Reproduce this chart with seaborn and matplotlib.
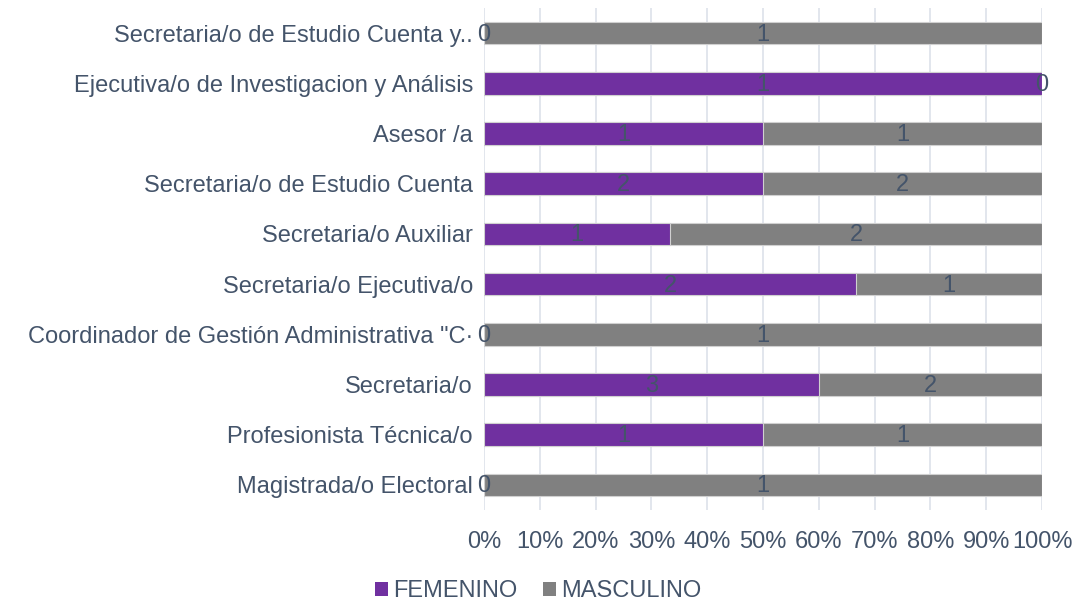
import matplotlib
matplotlib.use("Agg")
import matplotlib.pyplot as plt
import seaborn as sns
import pandas as pd
import numpy as np
from matplotlib.patches import Patch

categories = [
    "Secretaria/o de Estudio Cuenta y..",
    "Ejecutiva/o de Investigacion y Análisis",
    "Asesor /a",
    "Secretaria/o de Estudio Cuenta",
    "Secretaria/o Auxiliar",
    "Secretaria/o Ejecutiva/o",
    "Coordinador de Gestión Administrativa \"C·",
    "Secretaria/o",
    "Profesionista Técnica/o",
    "Magistrada/o Electoral",
]
femenino = [0, 1, 1, 2, 1, 2, 0, 3, 1, 0]
masculino = [1, 0, 1, 2, 2, 1, 1, 2, 1, 1]
x_ticks = [0, 10, 20, 30, 40, 50, 60, 70, 80, 90, 100]
series_names = ["FEMENINO", "MASCULINO"]

PURPLE = "#7030a0"
GRAY = "#808080"
TEXT = "#44546a"
GRID = "#dde2ea"

sns.set_theme(style="white")
plt.rcParams["font.family"] = ["Liberation Sans", "DejaVu Sans"]

df = pd.DataFrame({"cat": categories, "F": femenino, "M": masculino})
df["total"] = df["F"] + df["M"]
df["f_pct"] = df["F"] / df["total"] * 100
df["all_pct"] = 100.0

fig = plt.figure(figsize=(10.76, 6.0), dpi=100)
ax = fig.add_axes([484 / 1076, 1 - 510 / 600, (1042 - 484) / 1076, (510 - 8) / 600])

sns.barplot(data=df, y="cat", x="all_pct", color=GRAY, orient="h", width=0.45,
            edgecolor="#d0d0d0", linewidth=0.8, ax=ax, saturation=1, zorder=2)
sns.barplot(data=df, y="cat", x="f_pct", color=PURPLE, orient="h", width=0.45,
            edgecolor="#d0d0d0", linewidth=0.8, ax=ax, saturation=1, zorder=3)

fs = 17
for i, row in df.iterrows():
    fp = row["f_pct"]
    ax.text(fp / 2, i + 0.03, str(row["F"]), ha="center", va="center", color=TEXT, fontsize=fs, zorder=5)
    ax.text(fp + (100 - fp) / 2, i + 0.03, str(row["M"]), ha="center", va="center", color=TEXT, fontsize=fs, zorder=5)

ax.set_xlim(0, 100)
ax.set_ylim(len(categories) - 0.5, -0.5)
ax.set_xticks(x_ticks)
ax.set_xticklabels([f"{t}%" for t in x_ticks])
ax.xaxis.grid(True, color=GRID, linewidth=1.2, zorder=0)
ax.set_axisbelow(True)
for s in ax.spines.values():
    s.set_visible(False)
ax.set_xlabel("")
ax.set_ylabel("")
ax.tick_params(axis="x", colors=TEXT, labelsize=fs, pad=15, length=0)
ax.tick_params(axis="y", colors=TEXT, labelsize=fs, pad=8, length=0)

handles = [Patch(facecolor=PURPLE, edgecolor="none"), Patch(facecolor=GRAY, edgecolor="none")]
leg = fig.legend(handles, series_names, loc="center", bbox_to_anchor=(0.5, 1 - 591 / 600),
                 ncol=2, frameon=False, fontsize=fs, handlelength=0.55, handleheight=0.55,
                 handletextpad=0.2, columnspacing=1.1)
for t in leg.get_texts():
    t.set_color(TEXT)

fig.savefig("out.png", dpi=100)
